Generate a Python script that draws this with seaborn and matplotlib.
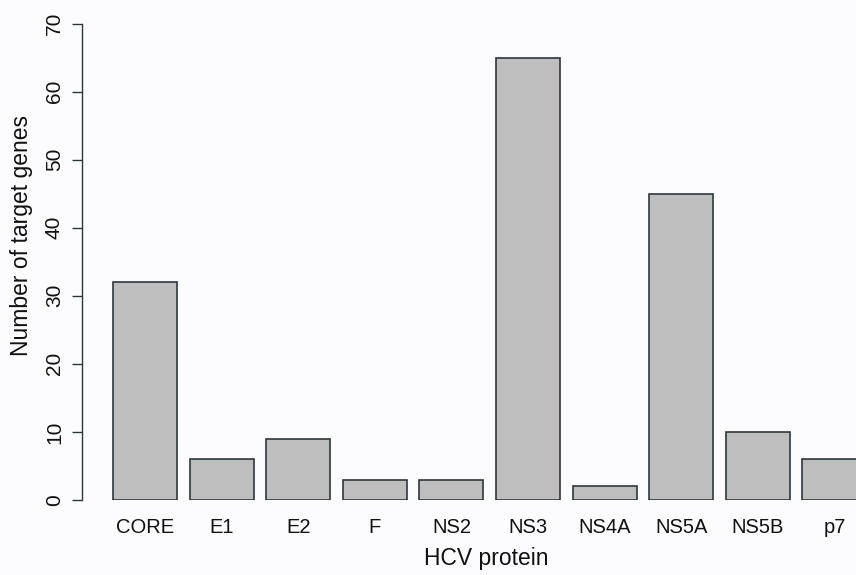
import matplotlib
matplotlib.use("Agg")
import matplotlib.pyplot as plt
import seaborn as sns
import pandas as pd

categories = ["CORE", "E1", "E2", "F", "NS2", "NS3", "NS4A", "NS5A", "NS5B", "p7"]
values = [32, 6, 9, 3, 3, 65, 2, 45, 10, 6]
yticks = [0, 10, 20, 30, 40, 50, 60, 70]

sns.set_theme(style="white")
plt.rcParams["font.family"] = ["Liberation Sans", "DejaVu Sans"]

W, H = 856, 575
fig = plt.figure(figsize=(W / 100, H / 100), dpi=100)
bg = "#fcfcfe"
fig.patch.set_facecolor(bg)

ax_left, ax_right = 82, 856
ax_bottom, ax_top = 500, 23.5
ax = fig.add_axes([ax_left / W, (H - ax_bottom) / H,
                   (ax_right - ax_left) / W, (ax_bottom - ax_top) / H])
ax.set_facecolor(bg)

df = pd.DataFrame({"protein": categories, "count": values})
sns.barplot(data=df, x="protein", y="count", order=categories, color="#bebebe",
            saturation=1, edgecolor="#2f373b", linewidth=1.2, width=0.835, ax=ax)

pitch = 76.6
first_center = 145
ax.set_xlim(-(first_center - ax_left) / pitch, (ax_right - first_center) / pitch)
ax.set_ylim(0, 70)

for s in ["top", "right", "bottom"]:
    ax.spines[s].set_visible(False)
ax.spines["left"].set_color("#2f373b")
ax.spines["left"].set_linewidth(1.0)
ax.spines["left"].set_bounds(0, 70)

ax.set_yticks(yticks)
ax.set_yticklabels([str(t) for t in yticks], rotation=90, va="center", fontsize=15)
ax.tick_params(axis="y", left=True, length=7, width=1.0, color="#2f373b", pad=6,
               labelcolor="#111111")
ax.tick_params(axis="x", bottom=False, length=0, pad=13, labelsize=14.5, labelcolor="#111111")

ax.set_xlabel("")
ax.set_ylabel("")
fig.text(22 / W, 1 - 236 / H, "Number of target genes", rotation=90, ha="center",
         va="center", fontsize=16.5, color="#111111")
fig.text(486 / W, 1 - 559 / H, "HCV protein", ha="center", va="center",
         fontsize=16.5, color="#111111")

fig.savefig("out.png", dpi=100, facecolor=bg)
